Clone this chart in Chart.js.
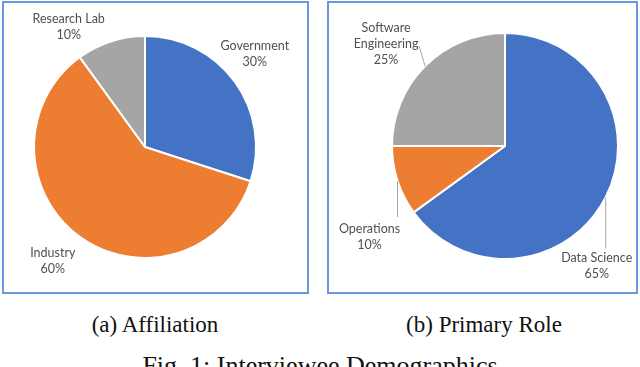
<!DOCTYPE html>
<html>
<head>
<meta charset="utf-8">
<script src="https://cdn.jsdelivr.net/npm/chart.js@4.4.1/dist/chart.umd.min.js"></script>
<style>
  html, body { margin: 0; padding: 0; background: #ffffff; }
  body { width: 640px; height: 367px; position: relative; overflow: hidden; }
  .box { position: absolute; box-sizing: border-box; border: 2px solid #6c97dc; }
  .cv { position: absolute; }
  .cap { position: absolute; font-family: "Liberation Serif", "Times New Roman", serif; color: #111; white-space: nowrap; line-height: 1; transform: translateX(-50%); }
</style>
</head>
<body>
<div class="box" style="left:2px;top:1px;width:307px;height:293px;"></div>
<div class="box" style="left:327px;top:1px;width:311px;height:293px;"></div>
<div class="cv" style="left:3px;top:2px;width:305px;height:291px;"><canvas id="c1"></canvas></div>
<div class="cv" style="left:328px;top:2px;width:309px;height:291px;"><canvas id="c2"></canvas></div>
<div class="cap" style="left:155px;top:313px;font-size:23px;">(a) Affiliation</div>
<div class="cap" style="left:484px;top:313px;font-size:23px;">(b) Primary Role</div>
<div class="cap" style="left:320px;top:353px;font-size:26px;">Fig. 1: Interviewee Demographics</div>
<script>
// ---- data ----
const affiliationCategories = ["Government", "Industry", "Research Lab"];
const affiliationValues = [30, 60, 10];
const roleCategories = ["Data Science", "Operations", "Software Engineering"];
const roleValues = [65, 10, 25];

// ---- styles ----
const sliceColors1 = ["#4472C4", "#ED7D31", "#A5A5A5"];
const sliceColors2 = ["#4472C4", "#ED7D31", "#A5A5A5"];
// label placement relative to slice's outer mid-point
const labelOffsets1 = [[20, -28], [-27, 24], [-42, -14]];
const labelOffsets2 = [[-9, 69], [-28, 56], [-39, -22.5]];
const leaderEnds2 = [[0, 51], [0, 36], [-6, -20]];
const wrapLabels2 = [false, false, true];

function labelPlugin(offsets, leaders, wraps) {
  return {
    id: 'sliceLabels',
    afterDatasetsDraw(chart) {
      const ctx = chart.ctx;
      const meta = chart.getDatasetMeta(0);
      const ds = chart.data.datasets[0];
      ctx.save();
      meta.data.forEach((arc, i) => {
        const p = arc.getProps(['x', 'y', 'startAngle', 'endAngle', 'outerRadius'], true);
        const mid = (p.startAngle + p.endAngle) / 2;
        const ex = p.x + p.outerRadius * Math.cos(mid);
        const ey = p.y + p.outerRadius * Math.sin(mid);
        if (leaders && leaders[i]) {
          ctx.strokeStyle = '#a6a6a6';
          ctx.lineWidth = 1;
          ctx.beginPath();
          ctx.moveTo(ex, ey);
          ctx.lineTo(ex + leaders[i][0], ey + leaders[i][1]);
          ctx.stroke();
        }
        const name = chart.data.labels[i];
        let lines = (wraps && wraps[i]) ? name.split(' ') : [name];
        lines = lines.concat([ds.data[i] + '%']);
        const cx = ex + offsets[i][0];
        const cy = ey + offsets[i][1];
        const lh = 16;
        ctx.fillStyle = '#505050';
        ctx.font = '12.5px Lato, "Open Sans", sans-serif';
        ctx.textAlign = 'center';
        ctx.textBaseline = 'middle';
        lines.forEach((t, k) => {
          ctx.fillText(t, cx, cy + (k - (lines.length - 1) / 2) * lh);
        });
      });
      ctx.restore();
    }
  };
}

function makePie(id, labels, values, colors, padding, offsets, leaders, wraps) {
  return new Chart(document.getElementById(id), {
    type: 'pie',
    data: {
      labels: labels,
      datasets: [{
        data: values,
        backgroundColor: colors,
        borderColor: '#ffffff',
        borderWidth: 2
      }]
    },
    options: {
      responsive: true,
      maintainAspectRatio: false,
      animation: false,
      layout: { padding: padding },
      plugins: { legend: { display: false }, tooltip: { enabled: false } }
    },
    plugins: [labelPlugin(offsets, leaders, wraps)]
  });
}

makePie('c1', affiliationCategories, affiliationValues, sliceColors1,
  { left: 30, right: 51, top: 33, bottom: 34 }, labelOffsets1, null, null);
makePie('c2', roleCategories, roleValues, sliceColors2,
  { left: 63, right: 18, top: 30, bottom: 33 }, labelOffsets2, leaderEnds2, wrapLabels2);
</script>
</body>
</html>
